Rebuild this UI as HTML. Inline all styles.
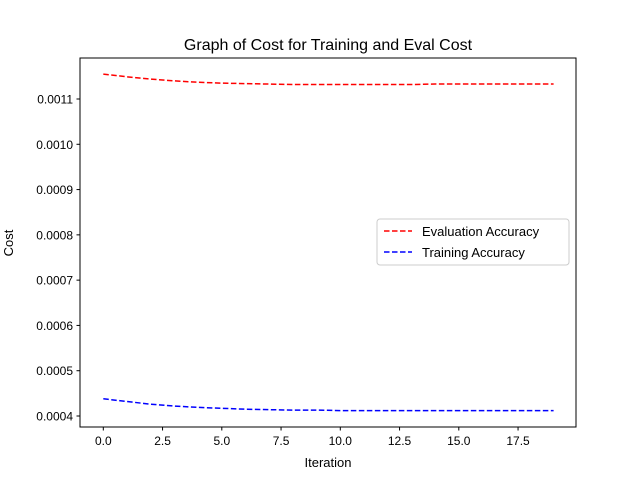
<!DOCTYPE html>
<html><head><meta charset="utf-8">
<style>
body{margin:0;background:#fff;}
svg{display:block;font-family:"Liberation Sans","DejaVu Sans",sans-serif;}
</style></head>
<body>
<svg id="chart" width="640" height="480" xmlns="http://www.w3.org/2000/svg">
<rect width="640" height="480" fill="#fff"/>
<text x="328" y="50" text-anchor="middle" font-size="16">Graph of Cost for Training and Eval Cost</text>
<g id="ticks"></g>
<g id="lines"></g>
<rect x="80" y="58" width="496" height="369" fill="none" stroke="#000" stroke-width="1"/>
<text x="328" y="467" text-anchor="middle" font-size="13">Iteration</text>
<text transform="translate(13,243) rotate(-90)" text-anchor="middle" font-size="13">Cost</text>
<g>
<rect x="377" y="219" width="192" height="46" rx="3" fill="#fff" stroke="#ccc"/>
<line x1="384" y1="231" x2="412" y2="231" stroke="red" stroke-width="1.5" stroke-dasharray="5.5,2.5"/>
<text x="422" y="236" font-size="13">Evaluation Accuracy</text>
<line x1="384" y1="252" x2="412" y2="252" stroke="blue" stroke-width="1.5" stroke-dasharray="5.5,2.5"/>
<text x="422" y="257" font-size="13">Training Accuracy</text>
</g>
</svg>
<script>
const iterations=[0,1,2,3,4,5,6,7,8,9,10,11,12,13,14,15,16,17,18,19];
const evalCost=[0.001155,0.001149,0.001144,0.001140,0.001137,0.001135,0.001134,0.001133,0.001132,0.001132,0.001132,0.001132,0.001132,0.001132,0.001133,0.001133,0.001133,0.001133,0.001133,0.001133];
const trainCost=[0.000438,0.000432,0.000426,0.000422,0.000419,0.000417,0.000415,0.000414,0.000413,0.000413,0.000412,0.000412,0.000412,0.000412,0.000412,0.000412,0.000412,0.000412,0.000412,0.000412];
const xTicks=[0,2.5,5,7.5,10,12.5,15,17.5];
const xTickLabels=["0.0","2.5","5.0","7.5","10.0","12.5","15.0","17.5"];
const yTicks=[0.0004,0.0005,0.0006,0.0007,0.0008,0.0009,0.0010,0.0011];
const yTickLabels=["0.0004","0.0005","0.0006","0.0007","0.0008","0.0009","0.0010","0.0011"];

const X=v=>103.3+v*23.7;
const Y=v=>416-(v-0.0004)*(317/0.0007);
const NS="http://www.w3.org/2000/svg";
const tg=document.getElementById('ticks');
function mk(tag,attrs,parent){const e=document.createElementNS(NS,tag);for(const k in attrs)e.setAttribute(k,attrs[k]);parent.appendChild(e);return e;}
xTicks.forEach((t,i)=>{
  const l=mk('line',{x1:X(t),x2:X(t),y1:427,y2:430.5,stroke:'#000'},tg);
  
  
  const tx=mk('text',{x:X(t),y:445,'text-anchor':'middle','font-size':'12'},tg);
  tx.textContent=xTickLabels[i];
  
  
});
yTicks.forEach((t,i)=>{
  const l=mk('line',{x1:76.5,x2:80,y1:Y(t),y2:Y(t),stroke:'#000'},tg);
  
  
  const tx=mk('text',{x:73,y:Y(t)+4.5,'text-anchor':'end','font-size':'12'},tg);
  tx.textContent=yTickLabels[i];
  
  
});
const lg=document.getElementById('lines');
function series(vals,color,name){
  const d=vals.map((v,i)=>(i?'L':'M')+X(iterations[i]).toFixed(2)+','+Y(v).toFixed(2)).join(' ');
  const p=mk('path',{d:d,fill:'none',stroke:color,'stroke-width':1.5,'stroke-dasharray':'5.5,2.5'},lg);
  
  
}
series(evalCost,'red','eval-cost-line');
series(trainCost,'blue','train-cost-line');
</script>
</body></html>
